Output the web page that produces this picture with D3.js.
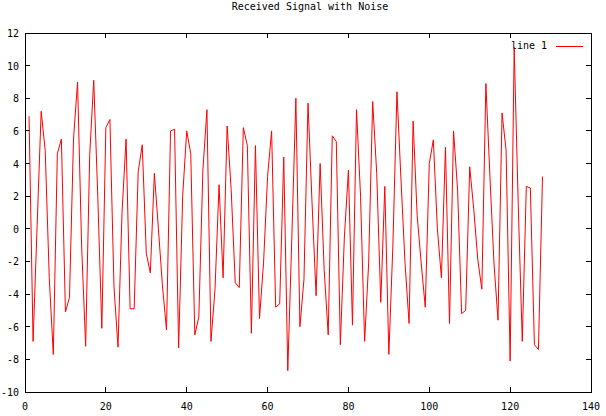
<!DOCTYPE html>
<html>
<head>
<meta charset="utf-8">
<script src="https://cdn.jsdelivr.net/npm/d3@7"></script>
<style>
  body { margin: 0; background: #fff; }
  text { font-family: "DejaVu Sans Mono", monospace; font-size: 10px; fill: #000; }
</style>
</head>
<body>
<div id="chart"></div>
<script>
var svgWidth = 606, svgHeight = 416;
var margin = {left: 25, right: 15, top: 33, bottom: 24};

// signal samples, index 1..128
var signal = [
  6.9, -6.9, 0.2, 7.2, 4.8, -3.0, -7.7, 4.6, 5.5, -5.1,
  -4.2, 5.5, 9.0, -1.0, -7.2, 4.5, 9.1, 2.0, -6.1, 6.2,
  6.7, -3.5, -7.25, 1.0, 5.5, -4.9, -4.9, 3.5, 5.15, -1.5,
  -2.7, 3.4, 0.0, -3.5, -6.2, 6.0, 6.1, -7.3, 2.0, 6.0,
  4.6, -6.5, -5.4, 3.6, 7.3, -6.9, -3.7, 2.7, -3.0, 6.3,
  2.4, -3.3, -3.6, 6.2, 5.1, -6.4, 5.1, -5.5, -2.1, 3.2,
  6.0, -4.8, -4.6, 4.4, -8.7, -0.5, 8.0, -6.0, -3.1, 7.7,
  1.6, -4.1, 4.0, -2.5, -6.5, 5.7, 5.35, -7.1, -0.5, 3.6,
  -5.9, 7.3, 2.0, -6.9, -2.1, 7.8, 3.4, -4.5, 2.6, -7.7,
  -1.0, 8.4, 3.0, -2.1, -5.8, 6.6, 0.8, -2.1, -4.8, 4.0,
  5.45, 0.0, -3.0, 5.0, -5.8, 6.0, 2.4, -5.2, -5.0, 3.8,
  1.2, -1.9, -3.7, 8.9, 3.2, -2.1, -5.6, 7.1, 4.8, -8.1,
  11.1, 1.5, -6.9, 2.6, 2.5, -7.1, -7.4, 3.2
];
var xTicks = [0, 20, 40, 60, 80, 100, 120, 140];
var yTicks = [-10, -8, -6, -4, -2, 0, 2, 4, 6, 8, 10, 12];
var title = "Received Signal with Noise";
var legendLabel = "line 1";

var svg = d3.select("#chart")
  .append("svg")
  .attr("width", svgWidth)
  .attr("height", svgHeight);

var x = d3.scaleLinear().domain([0, 140]).range([margin.left, svgWidth - margin.right]);
var y = d3.scaleLinear().domain([-10, 12]).range([svgHeight - margin.bottom, margin.top]);

var tickLen = 5;

// inward ticks, mirrored on the opposite side
var ticks = svg.append("g").attr("stroke", "#000").attr("stroke-width", 1).attr("shape-rendering", "crispEdges");
xTicks.forEach(function(t){
  ticks.append("line").attr("x1", x(t)).attr("x2", x(t)).attr("y1", y(-10)).attr("y2", y(-10) - tickLen);
  ticks.append("line").attr("x1", x(t)).attr("x2", x(t)).attr("y1", y(12)).attr("y2", y(12) + tickLen);
});
yTicks.forEach(function(t){
  ticks.append("line").attr("x1", x(0)).attr("x2", x(0) + tickLen).attr("y1", y(t)).attr("y2", y(t));
  ticks.append("line").attr("x1", x(140)).attr("x2", x(140) - tickLen).attr("y1", y(t)).attr("y2", y(t));
});

svg.append("g").selectAll("text")
  .data(xTicks)
  .enter()
  .append("text")
  .attr("x", d => x(d))
  .attr("y", svgHeight - margin.bottom + 18)
  .attr("text-anchor", "middle")
  .text(d => d);

svg.append("g").selectAll("text")
  .data(yTicks)
  .enter()
  .append("text")
  .attr("x", margin.left - 6)
  .attr("y", d => y(d) + 4)
  .attr("text-anchor", "end")
  .text(d => d);

// the signal
var line = d3.line()
  .x((d, i) => x(i + 1))
  .y(d => y(d));

svg.append("path")
  .datum(signal)
  .attr("fill", "none")
  .attr("stroke", "#ff0000")
  .attr("stroke-width", 1)
  .attr("d", line);

// border on top of everything
svg.append("rect")
  .attr("x", x(0))
  .attr("y", y(12))
  .attr("width", x(140) - x(0))
  .attr("height", y(-10) - y(12))
  .attr("fill", "none")
  .attr("stroke", "#000")
  .attr("stroke-width", 1)
  .attr("shape-rendering", "crispEdges");

svg.append("text")
  .attr("x", 310)
  .attr("y", 10)
  .attr("text-anchor", "middle")
  .text(title);

// legend
svg.append("text")
  .attr("x", 547)
  .attr("y", 49)
  .attr("text-anchor", "end")
  .text(legendLabel);
svg.append("line")
  .attr("x1", 556).attr("x2", 583)
  .attr("y1", 46).attr("y2", 46)
  .attr("stroke", "#ff0000")
  .attr("stroke-width", 1)
  .attr("shape-rendering", "crispEdges");
</script>
</body>
</html>
